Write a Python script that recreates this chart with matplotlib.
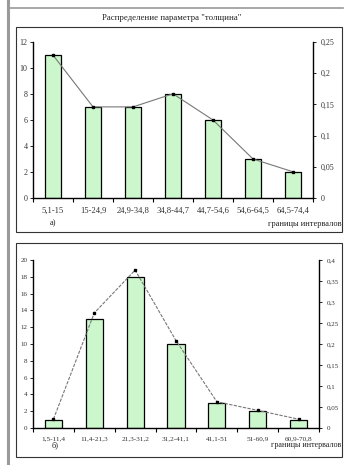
import matplotlib
matplotlib.use('Agg')
import matplotlib.pyplot as plt
import numpy as np
from matplotlib.lines import Line2D
from matplotlib.patches import Rectangle

plt.rcParams['font.family'] = ['Liberation Serif', 'DejaVu Serif']

# ---- data ----
title_a = 'Распределение параметра "толщина"'
cats_a = ["5,1-15", "15-24,9", "24,9-34,8", "34,8-44,7", "44,7-54,6", "54,6-64,5", "64,5-74,4"]
counts_a = [11, 7, 7, 8, 6, 3, 2]
freq_a = [0.229, 0.146, 0.146, 0.167, 0.125, 0.0625, 0.042]
left_ticks_a = [0, 2, 4, 6, 8, 10, 12]
right_ticks_a = [0, 0.05, 0.1, 0.15, 0.2, 0.25]
right_labels_a = ["0", "0,05", "0,1", "0,15", "0,2", "0,25"]

cats_b = ["1,5-11,4", "11,4-21,3", "21,3-31,2", "31,2-41,1", "41,1-51", "51-60,9", "60,9-70,8"]
counts_b = [1, 13, 18, 10, 3, 2, 1]
freq_b = [0.021, 0.274, 0.376, 0.208, 0.0625, 0.042, 0.021]
left_ticks_b = [0, 2, 4, 6, 8, 10, 12, 14, 16, 18, 20]
right_ticks_b = [0, 0.05, 0.1, 0.15, 0.2, 0.25, 0.3, 0.35, 0.4]
right_labels_b = ["0", "0,05", "0,1", "0,15", "0,2", "0,25", "0,3", "0,35", "0,4"]

xlabel = "границы интервалов"

W, H = 350, 465
fig = plt.figure(figsize=(W / 100, H / 100), dpi=100)


def fx(x):
    return x / W


def fy(y):
    return 1 - y / H


def frame(x0, y0, x1, y1, color, lw):
    fig.add_artist(Rectangle((fx(x0), fy(y1)), fx(x1) - fx(x0), fy(y0) - fy(y1),
                             transform=fig.transFigure, fill=False,
                             edgecolor=color, linewidth=lw))


# page decorations
fig.add_artist(Line2D([fx(8), fx(8)], [fy(0), fy(465)], transform=fig.transFigure,
                      color='#9a9a9a', lw=2.2))
fig.add_artist(Line2D([fx(8), fx(343)], [fy(8), fy(8)], transform=fig.transFigure,
                      color='#9a9a9a', lw=1.2))
frame(16, 27, 342, 232, '#333333', 0.8)
frame(16, 243, 342, 457, '#333333', 0.8)

BAR = '#ccf7cc'
TXT = '#333333'


def panel(x0, x1, ytop, ybot, cats, counts, freq, lt, rt, rl, ls, fs_x, fs_y):
    ax = fig.add_axes([fx(x0), fy(ybot), fx(x1) - fx(x0), fy(ytop) - fy(ybot)])
    n = len(cats)
    x = np.arange(n)
    ax.bar(x, counts, width=0.42, color=BAR, edgecolor='black', linewidth=0.9, zorder=2)
    ax.set_xlim(-0.5, n - 0.5)
    ax.set_ylim(0, lt[-1])
    ax.set_yticks(lt)
    ax.set_yticklabels([str(v) for v in lt])
    ax.set_xticks(x)
    ax.set_xticklabels(cats)
    ax.set_xticks(np.arange(n + 1) - 0.5, minor=True)
    ax.tick_params(axis='x', which='major', length=0, pad=6, labelsize=fs_x, labelcolor=TXT)
    ax.tick_params(axis='x', which='minor', length=3, width=0.8, direction='out')
    ax.tick_params(axis='y', length=2.5, width=0.6, pad=1.5, labelsize=fs_y, labelcolor=TXT)
    for s in ['top', 'right']:
        ax.spines[s].set_visible(False)
    ax.spines['left'].set_linewidth(1.0)
    ax.spines['bottom'].set_linewidth(1.0)
    ax.patch.set_alpha(0)

    ax2 = ax.twinx()
    ax2.set_ylim(0, rt[-1])
    ax2.set_yticks(rt)
    ax2.set_yticklabels(rl)
    ax2.tick_params(axis='y', length=2.5, width=0.6, pad=3, labelsize=fs_y, labelcolor=TXT)
    ax2.plot(x, freq, color='#777777', lw=0.8, linestyle=ls, marker='s', markersize=2,
             markerfacecolor='black', markeredgecolor='black', zorder=3)
    for s in ['top', 'left', 'bottom']:
        ax2.spines[s].set_visible(False)
    ax2.spines['right'].set_linewidth(1.0)
    return ax, ax2


panel(33, 313, 42, 198, cats_a, counts_a, freq_a, left_ticks_a, right_ticks_a, right_labels_a,
      '-', 6.2, 5.8)
panel(33, 319, 260, 428, cats_b, counts_b, freq_b, left_ticks_b, right_ticks_b, right_labels_b,
      (0, (3, 1.2)), 5.2, 5.0)

fig.text(fx(172), fy(18), title_a, ha='center', va='center', fontsize=6.3, color='#222222')
fig.text(fx(50), fy(223), "а)", ha='left', va='center', fontsize=6, color='#222222')
fig.text(fx(341), fy(224), xlabel, ha='right', va='center', fontsize=6, color='#222222')
fig.text(fx(52), fy(445), "б)", ha='left', va='center', fontsize=6, color='#222222')
fig.text(fx(341), fy(445), xlabel, ha='right', va='center', fontsize=5.8, color='#222222')

fig.savefig('out.png', dpi=100)
